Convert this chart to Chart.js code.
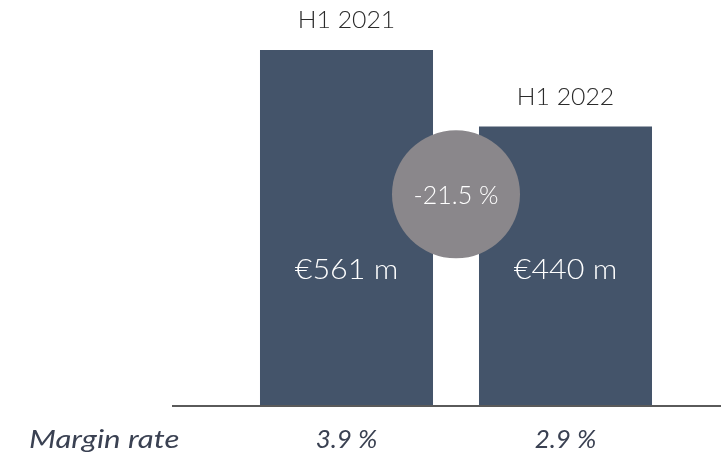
<!DOCTYPE html>
<html>
<head>
<meta charset="utf-8">
<script src="https://cdn.jsdelivr.net/npm/chart.js@4.4.0/dist/chart.umd.min.js"></script>
<style>
  html, body { margin: 0; padding: 0; background: #fff; }
  #wrap { width: 721px; height: 460px; position: relative; }
</style>
</head>
<body>
<div id="wrap"><canvas id="chart"></canvas></div>
<script>
const periods = ['H1 2021', 'H1 2022'];
const revenue = [561, 440];
const valueLabels = ['€561 m', '€440 m'];
const marginRates = ['3.9 %', '2.9 %'];
const changeLabel = '-21.5 %';
const rowTitle = 'Margin rate';

const barColor = '#44546a';
const fontFamily = 'Lato, "Open Sans", sans-serif';

// draw text stretched horizontally (reference font is wider than Lato)
function wideText(ctx, text, x, y, sx) {
  ctx.save();
  ctx.translate(x, y);
  ctx.scale(sx, 1);
  ctx.fillText(text, 0, 0);
  ctx.restore();
}

const annotate = {
  id: 'annotate',
  afterDatasetsDraw(chart) {
    const ctx = chart.ctx;
    const meta = chart.getDatasetMeta(0);
    const yScale = chart.scales.y;
    const area = chart.chartArea;

    ctx.save();
    // baseline
    ctx.strokeStyle = '#5a5a5a';
    ctx.lineWidth = 2;
    ctx.beginPath();
    ctx.moveTo(172, area.bottom + 1);
    ctx.lineTo(721, area.bottom + 1);
    ctx.stroke();

    ctx.textAlign = 'center';
    ctx.textBaseline = 'middle';
    meta.data.forEach((bar, i) => {
      ctx.fillStyle = '#2b2b2b';
      ctx.font = '300 23px ' + fontFamily;
      wideText(ctx, periods[i], bar.x, bar.y - 29, 1.08);
      ctx.fillStyle = '#ffffff';
      ctx.font = '300 27px ' + fontFamily;
      wideText(ctx, valueLabels[i], bar.x, yScale.getPixelForValue(213), 1.13);
      ctx.fillStyle = '#3a4152';
      ctx.font = 'italic 26px ' + fontFamily;
      ctx.fillText(marginRates[i], bar.x, 440);
    });

    // change bubble
    const cx = (meta.data[0].x + meta.data[1].x) / 2;
    const cy = yScale.getPixelForValue(333);
    ctx.fillStyle = '#8a878b';
    ctx.beginPath();
    ctx.arc(cx, cy, 64, 0, Math.PI * 2);
    ctx.fill();
    ctx.fillStyle = '#ffffff';
    ctx.font = '300 25px ' + fontFamily;
    ctx.fillText(changeLabel, cx, cy + 2);

    // row title
    ctx.textAlign = 'left';
    ctx.fillStyle = '#3a4152';
    ctx.font = 'italic 26px ' + fontFamily;
    wideText(ctx, rowTitle, 29, 440, 1.2);
    ctx.restore();
  }
};

new Chart(document.getElementById('chart').getContext('2d'), {
  type: 'bar',
  data: {
    labels: periods,
    datasets: [{
      data: revenue,
      backgroundColor: barColor,
      barPercentage: 1,
      categoryPercentage: 0.79
    }]
  },
  options: {
    responsive: true,
    maintainAspectRatio: false,
    animation: false,
    layout: { padding: { left: 237, right: 46, top: 0, bottom: 55 } },
    plugins: { legend: { display: false }, tooltip: { enabled: false } },
    scales: {
      x: { display: false },
      y: { display: false, min: 0, max: 640 }
    }
  },
  plugins: [annotate]
});
</script>
</body>
</html>
